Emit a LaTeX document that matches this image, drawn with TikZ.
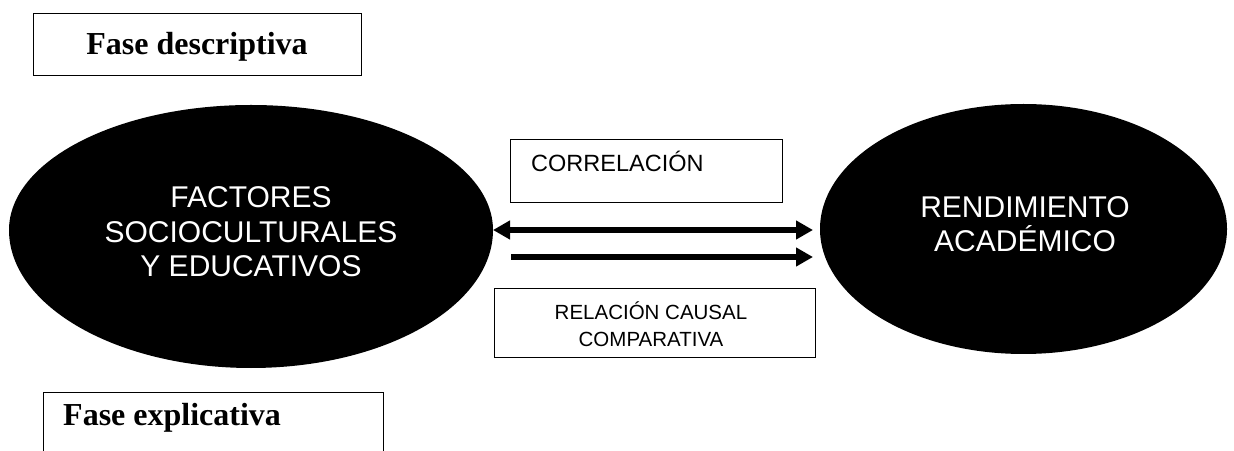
\documentclass[tikz,border=0pt]{standalone}
\usepackage{fontspec}
\setmainfont{Liberation Serif}
\newfontfamily\arial{Liberation Sans}
\usetikzlibrary{arrows.meta,shapes.geometric}
\begin{document}
\begin{tikzpicture}[x=1pt,y=1pt,
  box/.style={draw=black, line width=1pt, fill=white, inner sep=0pt},
  whitetxt/.style={text=white, font=\arial\fontsize{30}{34.5}\selectfont, align=center, inner sep=0pt},
  lbl/.style={font=\arial\fontsize{20.5}{26.5}\selectfont, align=center, inner sep=0pt},
  phase/.style={font=\bfseries\fontsize{32}{38}\selectfont, inner sep=0pt},
  fat/.style={line width=6pt},
  >={Triangle[length=17pt,width=18pt]},
]
\useasboundingbox (0,0) rectangle (1234,450);
\clip (0,0) rectangle (1234,450);

% phase boxes
\node[box, anchor=north west, minimum width=328pt, minimum height=62pt] (desc) at (33,437) {};
\node[phase, anchor=base] (desct) at (197,395) {Fase descriptiva};

\node[box, anchor=north west, minimum width=340pt, minimum height=80pt] (expl) at (43,58) {};
\node[phase, anchor=base west] (explt) at (63,25) {Fase explicativa};

% left blob
\fill[black] (9,220) arc[start angle=180, end angle=0, x radius=242, y radius=125]
  arc[start angle=0, end angle=-180, x radius=242, y radius=138] -- cycle;
\node[whitetxt] (fac) at (251,218) {FACTORES\\SOCIOCULTURALES\\Y EDUCATIVOS};

% right ellipse
\node[ellipse, fill=black, minimum width=407pt, minimum height=250pt, inner sep=0pt] (ren) at (1023.5,221) {};
\node[whitetxt] (rent) at (1025,226) {RENDIMIENTO\\ACADÉMICO};

% label boxes
\node[box, anchor=north west, minimum width=272pt, minimum height=63pt] (corr) at (510,311) {};
\node[anchor=base west, inner sep=0pt, font=\arial\fontsize{23.5}{28}\selectfont] (corrt) at (531,278) {CORRELACIÓN};

\node[box, anchor=north west, minimum width=321pt, minimum height=69pt] (rel) at (494,162) {};
\node[lbl] (relt) at (651,126) {RELACIÓN CAUSAL\\COMPARATIVA};

% arrows
\coordinate (a1s) at (493,220);
\coordinate (a2s) at (511,193);
\coordinate (a1e) at (813,220);
\coordinate (a2e) at (813,193);
\draw[fat,<->] (a1s) -- (a1e);
\draw[fat,->] (a2s) -- (a2e);
\end{tikzpicture}
\end{document}
